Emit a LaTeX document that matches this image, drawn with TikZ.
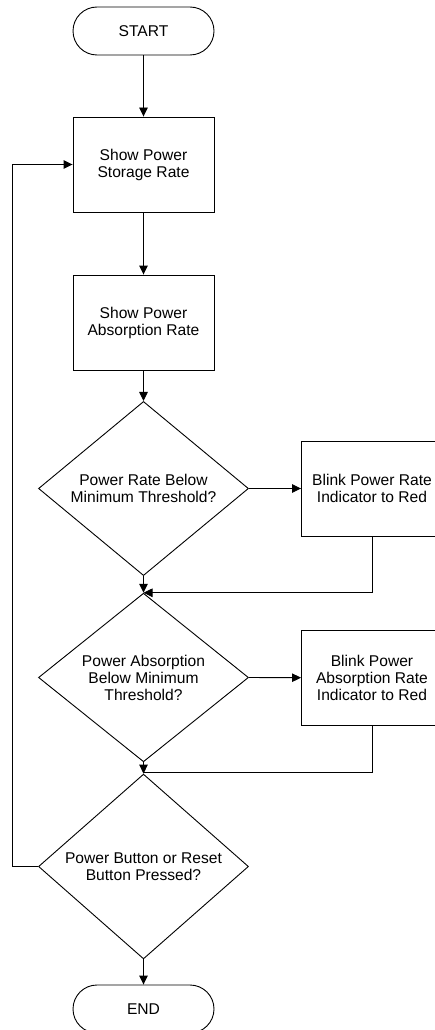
\documentclass[tikz,border=0pt]{standalone}
\usepackage{fontspec}
\setmainfont{Liberation Sans}
\usepackage{tikz}
\usetikzlibrary{arrows.meta}
\usetikzlibrary{shapes.geometric}
\usetikzlibrary{calc}

\tikzset{
	chartfont/.style={font=\fontsize{15.6}{17}\selectfont, align=center},
	terminal/.style={draw, chartfont, line width=0.9pt, minimum width=141pt, minimum height=48pt, rounded corners=24pt, inner sep=0pt},
	process/.style={draw, chartfont, line width=0.9pt, minimum width=141pt, minimum height=95pt, inner sep=0pt},
	decision/.style={draw, chartfont, diamond, line width=0.9pt, minimum width=210pt, minimum height=141pt, inner sep=0pt},
	flow/.style={line width=0.9pt, -{Triangle[length=9pt,width=8.5pt]}},
	joinline/.style={line width=0.9pt}
}

\begin{document}
\begin{tikzpicture}[x=1pt,y=-1pt]
			\useasboundingbox (0,0) rectangle (434,1030);

			\node[terminal] (start) at (143.5,31) {START};
			\node[process] (showstore) at (143.5,164.5) {Show Power\\Storage Rate};
			\node[process] (showabs) at (143.5,322.5) {Show Power\\Absorption Rate};
			\node[decision] (ratecheck) at (143.5,488.5) {Power Rate Below\\Minimum Threshold?};
			\node[process] (blinkrate) at (372,488.5) {Blink Power Rate\\Indicator to Red};
			\node[decision] (abscheck) at (143.5,677.5) {Power Absorption\\Below Minimum\\Threshold?};
			\node[process] (blinkabs) at (372,678) {Blink Power\\Absorption Rate\\Indicator to Red};
			\node[decision] (buttoncheck) at (143.5,866.5) {Power Button or Reset\\Button Pressed?};
			\node[terminal] (end) at (143.5,1009) {END};

			\coordinate (absjoin) at (143.5,772);
			\coordinate (loopback) at (12,866.5);

			\draw[flow] (start) -- (showstore);
			\draw[flow] (showstore) -- (showabs);
			\draw[flow] (showabs) -- (ratecheck);
			\draw[flow] (ratecheck.east) -- (blinkrate);
			\draw[flow] (ratecheck.south) -- (abscheck.north);
			\draw[flow] (blinkrate.south) |- (abscheck.north);
			\draw[flow] (abscheck.east) -- (blinkabs);
			\draw[joinline] (abscheck.south) -- (absjoin);
			\draw[joinline] (blinkabs.south) |- (absjoin);
			\draw[flow] (absjoin) -- (buttoncheck.north);
			\draw[flow] (buttoncheck.west) -- (loopback) |- (showstore.west);
			\draw[flow] (buttoncheck.south) -- (end);
		\end{tikzpicture}
\end{document}
